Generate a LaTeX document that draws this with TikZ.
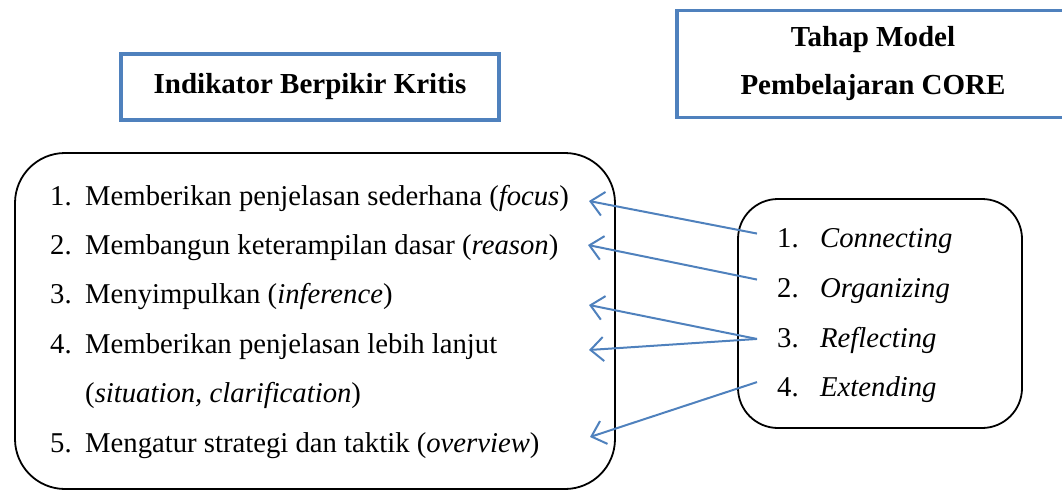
\documentclass[tikz,border=0pt]{standalone}
\usepackage{fontspec}
\setmainfont{Liberation Serif}
\usetikzlibrary{arrows.meta,positioning}
\definecolor{boxblue}{RGB}{79,129,189}

\begin{document}
\begin{tikzpicture}[
    x=1pt, y=-1pt,
    title/.style={draw=boxblue, line width=3.5pt, rectangle, align=center, font=\fontsize{29}{48}\selectfont\bfseries},
    panel/.style={draw, line width=1.8pt},
    item/.style={anchor=base west, inner sep=0pt, font=\fontsize{28.7}{34}\selectfont},
    link/.style={draw=boxblue, line width=2pt, -{Straight Barb[length=13pt,width=24pt,line width=2pt]}}
]
    \useasboundingbox (0,0) rectangle (1062,490);

    % Titles
    \node[title, minimum width=378, minimum height=66] (ind) at (310,87) {Indikator Berpikir Kritis};
    \node[title, minimum width=392, minimum height=107] (core) at (873,64) {Tahap Model\\Pembelajaran CORE};

    % Panels
    \draw[panel, rounded corners=50pt] (15,153) rectangle (615,489);
    \draw[panel, rounded corners=40pt] (738,199) rectangle (1022,428);

    % Indicators
    \node[item] (i1) at (50,205) {\makebox[35pt][l]{1.}Memberikan penjelasan sederhana (\textit{focus})};
    \node[item] (i2) at (50,254) {\makebox[35pt][l]{2.}Membangun keterampilan dasar (\textit{reason})};
    \node[item] (i3) at (50,303) {\makebox[35pt][l]{3.}Menyimpulkan (\textit{inference})};
    \node[item] (i4) at (50,353) {\makebox[35pt][l]{4.}Memberikan penjelasan lebih lanjut};
    \node[item] (i4b) at (85,402) {(\textit{situation, clarification})};
    \node[item] (i5) at (50,452) {\makebox[35pt][l]{5.}Mengatur strategi dan taktik (\textit{overview})};

    % CORE stages
    \node[item] (r1) at (777,247) {\makebox[43pt][l]{1.}\textit{Connecting}};
    \node[item] (r2) at (777,297) {\makebox[43pt][l]{2.}\textit{Organizing}};
    \node[item] (r3) at (777,347) {\makebox[43pt][l]{3.}\textit{Reflecting}};
    \node[item] (r4) at (777,396) {\makebox[43pt][l]{4.}\textit{Extending}};

    % Arrow tips
    \coordinate (t1) at (589,201);
    \coordinate (t2) at (588,245);
    \coordinate (t3) at (589,305);
    \coordinate (t4) at (589,350);
    \coordinate (t5) at (590,437);

    % Links
    \draw[link] ([xshift=-20pt,yshift=7pt]r1.west) -- (t1);
    \draw[link] ([xshift=-20pt,yshift=11pt]r2.west) -- (t2);
    \draw[link] ([xshift=-20pt,yshift=1pt]r3.west) -- (t3);
    \draw[link] ([xshift=-20pt,yshift=1pt]r3.west) -- (t4);
    \draw[link] ([xshift=-20pt,yshift=7pt]r4.west) -- (t5);

\end{tikzpicture}
\end{document}
